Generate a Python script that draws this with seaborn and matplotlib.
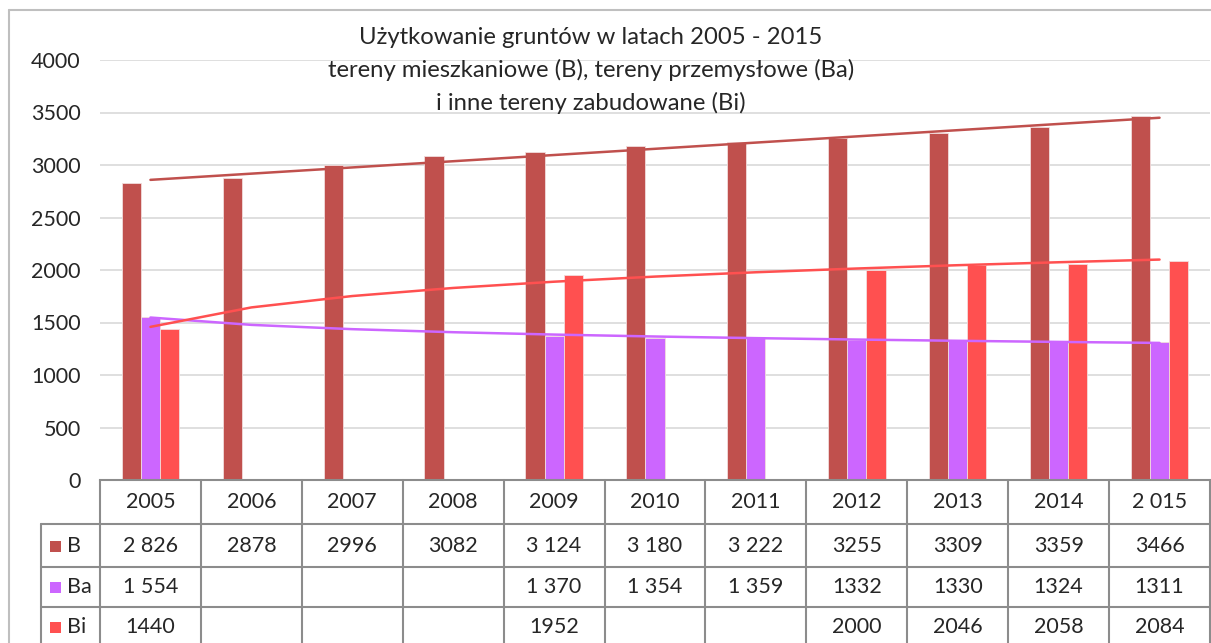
import numpy as np
import pandas as pd
import matplotlib
matplotlib.use("Agg")
from matplotlib import pyplot as plt
from matplotlib import transforms
from matplotlib.lines import Line2D
from matplotlib.patches import Rectangle
import seaborn as sns

# data
years = ["2005", "2006", "2007", "2008", "2009", "2010", "2011", "2012", "2013", "2014", "2 015"]
B = [2826, 2878, 2996, 3082, 3124, 3180, 3222, 3255, 3309, 3359, 3466]
Ba = [1554, np.nan, np.nan, np.nan, 1370, 1354, 1359, 1332, 1330, 1324, 1311]
Bi = [1440, np.nan, np.nan, np.nan, 1952, np.nan, np.nan, 2000, 2046, 2058, 2084]
B_txt = ["2 826", "2878", "2996", "3082", "3 124", "3 180", "3 222", "3255", "3309", "3359", "3466"]
Ba_txt = ["1 554", "", "", "", "1 370", "1 354", "1 359", "1332", "1330", "1324", "1311"]
Bi_txt = ["1440", "", "", "", "1952", "", "", "2000", "2046", "2058", "2084"]
series = ["B", "Ba", "Bi"]
colors = {"B": "#C0504D", "Ba": "#CC66FF", "Bi": "#FF5050"}
title = "Użytkowanie gruntów w latach 2005 - 2015\ntereny mieszkaniowe (B), tereny przemysłowe (Ba)\ni inne tereny zabudowane (Bi)"

W, H = 1211, 643
FONT = "Lato"
FS = 15.5

df = pd.DataFrame({"year": years * 3,
                   "series": ["B"] * 11 + ["Ba"] * 11 + ["Bi"] * 11,
                   "value": B + Ba + Bi})

sns.set_style("white")
plt.rcParams["font.family"] = [FONT, "DejaVu Sans"]

fig = plt.figure(figsize=(W / 100, H / 100), dpi=100)
ax = fig.add_axes([100 / W, 1 - 480 / H, 1110 / W, 420 / H])

sns.barplot(data=df.dropna(), x="year", y="value", hue="series", order=years,
            hue_order=series, palette=colors, saturation=1, width=0.57, gap=0,
            errorbar=None, edgecolor="#F2DCDC", linewidth=0.6, legend=False,
            ax=ax, zorder=2)

# trend lines (Excel style: linear for B, logarithmic for Ba and Bi)
idx = np.arange(1, 12)
pos = np.arange(11)
vals = {"B": np.array(B, float), "Ba": np.array(Ba, float), "Bi": np.array(Bi, float)}
for s in series:
    y = vals[s]
    ok = ~np.isnan(y)
    if s == "B":
        c = np.polyfit(idx[ok], y[ok], 1)
        fit = np.polyval(c, idx)
    else:
        c = np.polyfit(np.log(idx[ok]), y[ok], 1)
        fit = np.polyval(c, np.log(idx))
    ax.plot(pos, fit, color=colors[s], lw=1.8, zorder=3)

ax.set_xlim(-0.5, 10.5)
ax.set_ylim(0, 4000)
ax.set_yticks(np.arange(0, 4001, 500))
ax.yaxis.grid(True, color="#D9D9D9", lw=1.2, zorder=0)
ax.set_axisbelow(True)
for sp in ["top", "right", "left"]:
    ax.spines[sp].set_visible(False)
ax.spines["bottom"].set_color("#8C8C8C")
ax.spines["bottom"].set_linewidth(1.5)
ax.set_xticks([])
ax.set_xlabel("")
ax.set_ylabel("")
ax.tick_params(axis="y", length=0, pad=14, labelsize=FS)

fig.text(591 / W, 1 - 70.5 / H, title, ha="center", va="center", fontsize=17.2,
         linespacing=1.6, fontfamily=FONT)

# data table under the plot
tr = transforms.blended_transform_factory(ax.transData, fig.transFigure)
fy = lambda p: 1 - p / H
leg_left = -0.5 - 59 / 100.9
rows = [480, 524, 567, 607, 660]
gcol = "#8C8C8C"
for i in range(12):
    fig.add_artist(Line2D([i - 0.5, i - 0.5], [fy(480), fy(660)], transform=tr, color=gcol, lw=1.5))
fig.add_artist(Line2D([leg_left, leg_left], [fy(524), fy(660)], transform=tr, color=gcol, lw=1.5))
for r in rows[1:4]:
    fig.add_artist(Line2D([leg_left, 10.5], [fy(r), fy(r)], transform=tr, color=gcol, lw=1.5))

mids = [(rows[k] + rows[k + 1]) / 2 for k in range(3)] + [627]
for i, yr in enumerate(years):
    fig.text(i, fy(mids[0]), yr, transform=tr, ha="center", va="center", fontsize=FS)
for k, (s, txt) in enumerate(zip(series, [B_txt, Ba_txt, Bi_txt])):
    ym = mids[k + 1]
    for i, t in enumerate(txt):
        fig.text(i, fy(ym), t, transform=tr, ha="center", va="center", fontsize=FS)
    fig.add_artist(Rectangle((50 / W, fy(ym + 6)), 11 / W, 11 / H, transform=fig.transFigure,
                             facecolor=colors[s], edgecolor="none"))
    fig.text(67 / W, fy(ym), s, ha="left", va="center", fontsize=FS)

# outer chart frame (left and top edges visible)
fig.add_artist(Line2D([9 / W, 9 / W], [-0.1, fy(10)], transform=fig.transFigure, color="#BFBFBF", lw=1.5))
fig.add_artist(Line2D([9 / W, 1.1], [fy(10), fy(10)], transform=fig.transFigure, color="#BFBFBF", lw=1.5))

fig.savefig("out.png", dpi=100)
